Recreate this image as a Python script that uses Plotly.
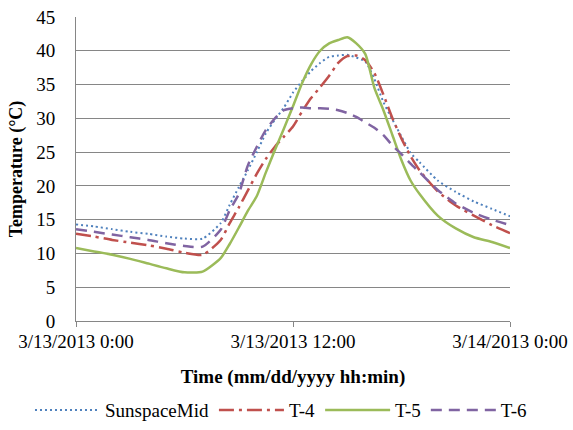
import plotly.graph_objects as go

hours = [0, 1, 2, 3, 4, 5, 6, 7, 8, 8.5, 9, 9.5, 10, 10.5, 11, 11.5, 12, 12.5,
         13, 13.5, 14, 14.5, 15, 15.5, 16, 16.5, 17, 17.5, 18, 18.5, 19,
         20, 21, 22, 23, 24]

sunspace_mid = [14.3, 14.0, 13.6, 13.2, 12.9, 12.5, 12.2, 12.2, 14.5, 17.2, 19.8, 22.3,
                25.0, 27.8, 29.8, 31.6, 33.8, 35.5, 37.0, 38.2, 39.1, 39.3, 39.4, 39.0,
                38.4, 35.8, 32.4, 29.8, 27.3, 24.9, 23.5, 20.8, 19.1, 17.7, 16.6, 15.5]
t4 = [12.9, 12.5, 12.0, 11.6, 11.2, 10.7, 10.1, 9.8, 12.0, 14.5, 16.8, 19.3,
      21.8, 24.0, 25.8, 27.3, 28.8, 31.0, 33.0, 34.6, 36.3, 38.2, 39.2, 39.3,
      38.6, 36.7, 33.5, 30.0, 27.0, 24.4, 22.3, 19.2, 17.1, 15.6, 14.2, 13.0]
t5 = [10.8, 10.3, 9.8, 9.2, 8.5, 7.8, 7.2, 7.3, 9.3, 11.4, 13.8, 16.3,
      18.5, 22.0, 25.3, 28.5, 31.8, 35.2, 38.0, 40.0, 41.1, 41.6, 42.0, 41.1,
      39.5, 34.5, 31.2, 27.5, 23.8, 20.8, 18.8, 15.6, 13.7, 12.4, 11.7, 10.8]
t6 = [13.6, 13.2, 12.8, 12.4, 12.0, 11.5, 11.1, 11.0, 13.5, 16.4, 18.8, 23.0,
      25.8, 28.3, 30.0, 31.2, 31.5, 31.6, 31.5, 31.5, 31.4, 31.2, 30.8, 30.2,
      29.4, 28.6, 27.5, 26.0, 24.7, 23.3, 22.0, 19.4, 17.4, 16.0, 15.0, 14.2]

tick_hours = [0, 12, 24]
tick_labels = ["3/13/2013 0:00", "3/13/2013 12:00", "3/14/2013 0:00"]
series_names = ["SunspaceMid", "T-4", "T-5", "T-6"]

FONT = "Liberation Serif, Times New Roman, serif"
GRID = "#868686"

fig = go.Figure()
styles = [
    dict(color="#4F81BD", width=2, dash="2px,3px"),
    dict(color="#C0504D", width=2.5, dash="15px,5px,3px,5px"),
    dict(color="#9BBB59", width=2.5, dash="solid"),
    dict(color="#8064A2", width=2.5, dash="11px,7px"),
]
for name, vals, st in zip(series_names, [sunspace_mid, t4, t5, t6], styles):
    fig.add_trace(go.Scatter(x=hours, y=vals, mode="lines", name=name,
                             line=dict(shape="spline", smoothing=0.6, **st)))

fig.update_layout(
    width=573, height=430,
    margin=dict(l=76, r=63, t=17, b=109, autoexpand=False),
    paper_bgcolor="white", plot_bgcolor="white",
    font=dict(family=FONT, color="black", size=18),
    showlegend=True,
    legend=dict(orientation="h", x=-0.106, xanchor="left", xref="paper",
                y=-0.293, yref="paper", yanchor="middle",
                font=dict(family=FONT, size=19), itemwidth=65,
                traceorder="normal"),
)
fig.update_xaxes(
    range=[0, 24], tickmode="array", tickvals=tick_hours, ticktext=tick_labels,
    showgrid=False, zeroline=False, automargin=False,
    showline=True, linecolor=GRID, linewidth=1,
    ticks="outside", ticklen=5, tickcolor=GRID, ticklabelstandoff=-2,
    tickfont=dict(family=FONT, size=19),
    title=dict(text="<b>Time (mm/dd/yyyy hh:min)</b>", font=dict(family=FONT, size=19),
               standoff=18),
)
fig.update_yaxes(
    range=[0, 45], dtick=5, tick0=0,
    showgrid=True, gridcolor=GRID, gridwidth=1, zeroline=False, automargin=False,
    showline=True, linecolor=GRID, linewidth=1,
    ticks="", ticklabelstandoff=16,
    tickfont=dict(family=FONT, size=19),
    title=dict(text="<b>Temperature (°C)</b>", font=dict(family=FONT, size=18),
               standoff=8),
)

fig.write_html(
    "out.html",
    config={"displayModeBar": False},
    post_script="document.body.style.margin='0';document.body.style.overflow='hidden';",
)
